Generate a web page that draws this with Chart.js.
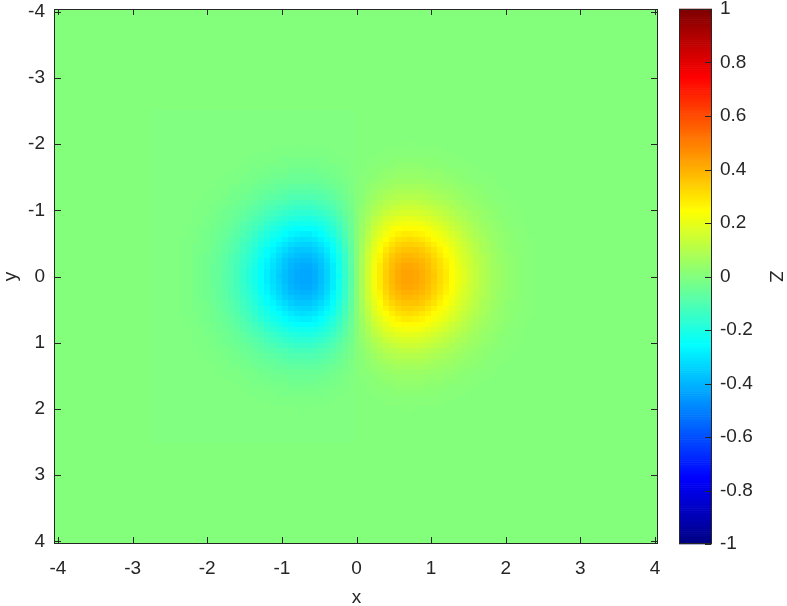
<!DOCTYPE html>
<html>
<head>
<meta charset="utf-8">
<script src="https://cdn.jsdelivr.net/npm/chart.js@4/dist/chart.umd.min.js"></script>
<style>
  body { margin: 0; background: #fff; }
  #wrap { width: 787px; height: 606px; }
</style>
</head>
<body>
<div id="wrap"><canvas id="heat" width="787" height="606"></canvas></div>
<script>
// grid points (same for x and y), step 0.08
const gridPts = [
  -4, -3.92, -3.84, -3.76, -3.68, -3.6, -3.52, -3.44, -3.36, -3.28,
  -3.2, -3.12, -3.04, -2.96, -2.88, -2.8, -2.72, -2.64, -2.56, -2.48,
  -2.4, -2.32, -2.24, -2.16, -2.08, -2, -1.92, -1.84, -1.76, -1.68,
  -1.6, -1.52, -1.44, -1.36, -1.28, -1.2, -1.12, -1.04, -0.96, -0.88,
  -0.8, -0.72, -0.64, -0.56, -0.48, -0.4, -0.32, -0.24, -0.16, -0.08,
  0,
  0.08, 0.16, 0.24, 0.32, 0.4, 0.48, 0.56, 0.64, 0.72, 0.8,
  0.88, 0.96, 1.04, 1.12, 1.2, 1.28, 1.36, 1.44, 1.52, 1.6,
  1.68, 1.76, 1.84, 1.92, 2, 2.08, 2.16, 2.24, 2.32, 2.4,
  2.48, 2.56, 2.64, 2.72, 2.8, 2.88, 2.96, 3.04, 3.12, 3.2,
  3.28, 3.36, 3.44, 3.52, 3.6, 3.68, 3.76, 3.84, 3.92, 4
];

// Z along the row y = 0, one value per x grid point
const zAlongX = [
  0, 0, 0, 0, 0, 0, 0, 0, 0, 0, 0, 0, 0, 0, 0, 0,
  -0.0017, -0.0025, -0.0037, -0.0053, -0.0076, -0.0107, -0.0148, -0.0203, -0.0275, -0.0366,
  -0.0481, -0.0623, -0.0795, -0.0999, -0.1237, -0.1508, -0.1811, -0.2139, -0.2487, -0.2843,
  -0.3195, -0.3526, -0.3820, -0.4057, -0.4218, -0.4287, -0.4249, -0.4093, -0.3812, -0.3409,
  -0.2889, -0.2266, -0.1560, -0.0795,
  0,
  0.0795, 0.1560, 0.2266, 0.2889, 0.3409, 0.3812, 0.4093, 0.4249, 0.4287, 0.4218,
  0.4057, 0.3820, 0.3526, 0.3195, 0.2843, 0.2487, 0.2139, 0.1811, 0.1508, 0.1237,
  0.0999, 0.0795, 0.0623, 0.0481, 0.0366, 0.0275, 0.0203, 0.0148, 0.0107, 0.0076,
  0.0053, 0.0037, 0.0025, 0.0017,
  0, 0, 0, 0, 0, 0, 0, 0, 0, 0, 0, 0, 0, 0, 0, 0
];

// how strongly each row (y grid point) keeps the y = 0 values
const rowFactor = [
  0, 0, 0, 0, 0, 0, 0, 0, 0, 0, 0, 0, 0, 0, 0, 0, 0, 0, 0,
  0.0021, 0.0032, 0.0046, 0.0066, 0.0094, 0.0132, 0.0183, 0.0251, 0.0339, 0.0452,
  0.0595, 0.0773, 0.0992, 0.1257, 0.1573, 0.1943, 0.2369, 0.2852, 0.3390, 0.3979,
  0.4610, 0.5273, 0.5955, 0.6639, 0.7308, 0.7942, 0.8521, 0.9027, 0.9440, 0.9747,
  0.9936,
  1,
  0.9936, 0.9747, 0.9440, 0.9027, 0.8521, 0.7942, 0.7308, 0.6639, 0.5955, 0.5273,
  0.4610, 0.3979, 0.3390, 0.2852, 0.2369, 0.1943, 0.1573, 0.1257, 0.0992, 0.0773,
  0.0595, 0.0452, 0.0339, 0.0251, 0.0183, 0.0132, 0.0094, 0.0066, 0.0046, 0.0032,
  0.0021,
  0, 0, 0, 0, 0, 0, 0, 0, 0, 0, 0, 0, 0, 0, 0, 0, 0, 0, 0
];

const axisTicks = [-4, -3, -2, -1, 0, 1, 2, 3, 4];
const cbTicks = [-1, -0.8, -0.6, -0.4, -0.2, 0, 0.2, 0.4, 0.6, 0.8, 1];
const cbLabels = ['-1', '-0.8', '-0.6', '-0.4', '-0.2', '0', '0.2', '0.4', '0.6', '0.8', '1'];
const cLim = [-1, 1];

const HALF = 0.04;
const INK = '#262626';
const FONT = "'Liberation Sans', Arial, Helvetica, sans-serif";

// MATLAB style jet(256)
function jetMap(n) {
  const m = Math.ceil(n / 4);
  const u = [];
  for (let i = 1; i <= m; i++) u.push(i / m);
  for (let i = 0; i < m - 1; i++) u.push(1);
  for (let i = m; i >= 1; i--) u.push(i / m);
  const off = Math.ceil(m / 2) - (n % 4 === 1 ? 1 : 0);
  const J = Array.from({ length: n }, () => [0, 0, 0]);
  const rI = [], gI = [], bI = [];
  for (let k = 1; k <= u.length; k++) {
    const g = off + k;
    if (g + m <= n) rI.push(g + m);
    if (g <= n) gI.push(g);
    if (g - m >= 1) bI.push(g - m);
  }
  rI.forEach((r, i) => J[r - 1][0] = u[i]);
  gI.forEach((g, i) => J[g - 1][1] = u[i]);
  bI.forEach((b, i) => J[b - 1][2] = u[u.length - bI.length + i]);
  return J.map(c => `rgb(${Math.round(c[0] * 255)},${Math.round(c[1] * 255)},${Math.round(c[2] * 255)})`);
}
const JET = jetMap(256);

function colorFor(v) {
  let idx = Math.floor((v - cLim[0]) / (cLim[1] - cLim[0]) * JET.length);
  idx = Math.max(0, Math.min(JET.length - 1, idx));
  return JET[idx];
}

// cells
const cells = [];
gridPts.forEach((yv, j) => {
  gridPts.forEach((xv, i) => {
    cells.push({ x: xv, y: yv, v: zAlongX[i] * rowFactor[j] });
  });
});

function noPad(s) {
  s.paddingTop = 0; s.paddingBottom = 0; s.paddingLeft = 0; s.paddingRight = 0;
}

const heatPlugin = {
  id: 'heatCells',
  beforeDatasetsDraw(chart) {
    const { ctx, chartArea: a, scales: { x, y } } = chart;
    ctx.save();
    ctx.beginPath();
    ctx.rect(a.left, a.top, a.right - a.left, a.bottom - a.top);
    ctx.clip();
    chart.data.datasets[0].data.forEach(p => {
      const xa = Math.round(x.getPixelForValue(p.x - HALF));
      const xb = Math.round(x.getPixelForValue(p.x + HALF));
      const ya = Math.round(y.getPixelForValue(p.y - HALF));
      const yb = Math.round(y.getPixelForValue(p.y + HALF));
      ctx.fillStyle = colorFor(p.v);
      ctx.fillRect(Math.min(xa, xb), Math.min(ya, yb), Math.abs(xb - xa), Math.abs(yb - ya));
    });
    ctx.restore();
  },
  afterDraw(chart) {
    const { ctx, chartArea: a, scales: { x, y, cb } } = chart;
    const TL = 6;
    ctx.save();
    ctx.strokeStyle = INK;
    ctx.lineWidth = 1;
    // box
    ctx.strokeRect(a.left - 0.5, a.top + 0.5, a.right - a.left, a.bottom - a.top - 1);
    ctx.beginPath();
    axisTicks.forEach(t => {
      const px = Math.round(x.getPixelForValue(t)) + 0.5;
      ctx.moveTo(px, a.bottom - 1); ctx.lineTo(px, a.bottom - 1 - TL);
      ctx.moveTo(px, a.top); ctx.lineTo(px, a.top + TL);
      const py = Math.round(y.getPixelForValue(t)) + 0.5;
      ctx.moveTo(a.left, py); ctx.lineTo(a.left + TL, py);
      ctx.moveTo(a.right - 1, py); ctx.lineTo(a.right - 1 - TL, py);
    });
    ctx.stroke();

    // colorbar
    const cx0 = cb.left + 21, cx1 = cb.left + 54;
    for (let i = 0; i < JET.length; i++) {
      const v0 = cLim[0] + i * (cLim[1] - cLim[0]) / JET.length;
      const v1 = cLim[0] + (i + 1) * (cLim[1] - cLim[0]) / JET.length;
      const p0 = cb.getPixelForValue(v0), p1 = cb.getPixelForValue(v1);
      ctx.fillStyle = JET[i];
      ctx.fillRect(cx0, Math.min(p0, p1) - 0.3, cx1 - cx0, Math.abs(p1 - p0) + 0.6);
    }
    ctx.strokeRect(cx0 + 0.5, a.top + 0.5, cx1 - cx0 - 1, a.bottom - a.top - 1);
    ctx.beginPath();
    cbTicks.forEach(t => {
      const py = Math.round(cb.getPixelForValue(t)) + 0.5;
      ctx.moveTo(cx1 - 1, py); ctx.lineTo(cx1 - 1 - TL, py);
    });
    ctx.stroke();
    ctx.restore();
  }
};

Chart.defaults.font.family = FONT;
Chart.defaults.color = INK;

const tickFont = { size: 19 };

new Chart(document.getElementById('heat'), {
  type: 'scatter',
  data: {
    datasets: [{ data: cells, pointRadius: 0, pointHoverRadius: 0 }]
  },
  options: {
    responsive: false,
    animation: false,
    events: [],
    layout: { padding: { top: 9, right: 0, left: 0, bottom: 0 } },
    plugins: { legend: { display: false }, tooltip: { enabled: false } },
    scales: {
      x: {
        type: 'linear', position: 'bottom', min: -4.04, max: 4.04,
        afterBuildTicks: s => { s.ticks = axisTicks.map(v => ({ value: v })); },
        afterFit: s => { s.height = 62; noPad(s); },
        grid: { display: false, drawTicks: false },
        border: { display: false },
        ticks: { font: tickFont, padding: 13, maxRotation: 0, callback: v => String(v) },
        title: { display: true, text: 'x', font: { size: 19, lineHeight: 0.9 }, padding: { top: 0, bottom: 0 } }
      },
      y: {
        type: 'linear', position: 'left', reverse: true, min: -4.04, max: 4.04,
        afterBuildTicks: s => { s.ticks = axisTicks.map(v => ({ value: v })); },
        afterFit: s => { s.width = 55; noPad(s); },
        grid: { display: false, drawTicks: false },
        border: { display: false },
        ticks: { font: tickFont, padding: 10, callback: v => String(v) },
        title: { display: true, text: 'y', font: { size: 19, lineHeight: 1.1 }, padding: { top: 0, bottom: 0 } }
      },
      cb: {
        type: 'linear', position: 'right', min: cLim[0], max: cLim[1],
        afterBuildTicks: s => { s.ticks = cbTicks.map(v => ({ value: v })); },
        afterFit: s => { s.width = 129; noPad(s); },
        grid: { display: false, drawTicks: false },
        border: { display: false },
        ticks: { font: tickFont, padding: 62, callback: v => cbLabels[cbTicks.indexOf(v)] },
        title: { display: true, text: 'Z', font: { size: 19, lineHeight: 1.1 }, padding: { top: 1, bottom: 0 } }
      }
    }
  },
  plugins: [heatPlugin]
});
</script>
</body>
</html>
